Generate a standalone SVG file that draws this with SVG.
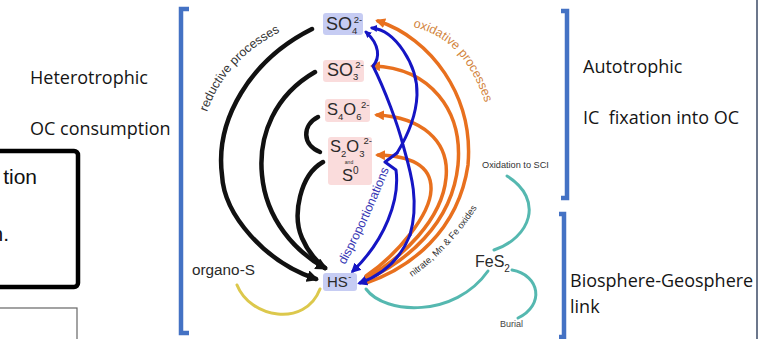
<svg xmlns="http://www.w3.org/2000/svg" width="760" height="339" viewBox="0 0 760 339">
<style>
.side{font-family:"Open Sans","Liberation Sans",sans-serif;font-size:18px;fill:#151515}
.chem{font-family:"Liberation Sans",Arial,sans-serif;fill:#2a2a2a}
.lab{font-family:"Liberation Sans",Arial,sans-serif}
.bracket{fill:none;stroke:#4472c4;stroke-width:4.5}
.k{fill:none;stroke:#111;stroke-width:4.5;stroke-linecap:round}
.o{fill:none;stroke:#e8701e;stroke-width:3.5;stroke-linecap:round}
.b{fill:none;stroke:#1515c4;stroke-width:3;stroke-linecap:round;stroke-linejoin:round}
.t{fill:none;stroke:#55b8b0;stroke-width:3;stroke-linecap:round}
.blue{fill:#c6ccf3}
.pink{fill:#fadcdc}
.s{font-size:9.5px}
</style>
<defs>
<marker id="ak" markerUnits="userSpaceOnUse" markerWidth="12" markerHeight="12" refX="9" refY="6" orient="auto"><path d="M0,0 L12,6 L0,12 z" fill="#111"/></marker>
<marker id="ao" markerUnits="userSpaceOnUse" markerWidth="10" markerHeight="10" refX="7" refY="5" orient="auto"><path d="M0,0 L10,5 L0,10 z" fill="#e8701e"/></marker>
<marker id="ab" markerUnits="userSpaceOnUse" markerWidth="10" markerHeight="10" refX="7" refY="5" orient="auto"><path d="M0,0 L10,5 L0,10 z" fill="#1515c4"/></marker>
<marker id="ab2" markerUnits="userSpaceOnUse" markerWidth="7" markerHeight="7" refX="5" refY="3.5" orient="auto"><path d="M0,0 L7,3.5 L0,7 z" fill="#1515c4"/></marker>
<path id="pRed" d="M 207,112 Q 226,58 284,30"/>
<path id="pOx" d="M 413,27 Q 465,38 486,106"/>
<path id="pDis" d="M 345,265 Q 374,212 400,140"/>
<path id="pNit" d="M 412,277 Q 450,250 478,206"/>
</defs>
<rect width="760" height="339" fill="#fff"/>

<!-- left panel -->
<g id="left-box">
<rect x="-10" y="151" width="88" height="136" rx="4" fill="none" stroke="#000" stroke-width="4.5"/>
<text class="lab" x="37" y="184" font-size="21" text-anchor="end" fill="#111">tion</text>
<text class="lab" x="9" y="241" font-size="21" text-anchor="end" fill="#111">n.</text>
</g>
<g id="left-box2">
<rect x="-10" y="308" width="87" height="50" fill="none" stroke="#666" stroke-width="1.2"/>
</g>
<g id="heterotrophic">
<text class="side" x="30" y="84">Heterotrophic</text>
<text class="side" x="30" y="135">OC consumption</text>
</g>
<g id="brackets">
<path class="bracket" d="M189,9 H181 V333 H189"/>
<path class="bracket" d="M561,11 H567 V198 H561"/>
<path class="bracket" d="M559,214 H564 V337 H559"/>
<line x1="757" y1="0" x2="757" y2="339" stroke="#3b4a66" stroke-width="1.5"/>
</g>
<g id="autotrophic">
<text class="side" x="583" y="73">Autotrophic</text>
<text class="side" x="583" y="124" xml:space="preserve" style="white-space:pre">IC  fixation into OC</text>
</g>
<g id="biosphere">
<text class="side" x="570" y="287">Biosphere-Geosphere</text>
<text class="side" x="570" y="313">link</text>
</g>

<!-- connectors -->
<g id="connectors">
<path class="k" d="M312,29 C250,60 215,120 222,175 C224,215 265,262 316,279" marker-end="url(#ak)"/>
<path class="k" d="M315,72 C275,95 258,135 262,175 C266,220 296,252 325,268" marker-end="url(#ak)"/>
<path class="k" d="M318,117 C302,125 302,145 320,152"/>
<path class="k" d="M323,162 C300,175 292,215 302,238 C308,252 316,261 325,268"/>

<path class="o" d="M366,283 C410,268 458,232 468,165 C474,95 430,38 378,21" marker-end="url(#ao)"/>
<path class="o" d="M366,280 C405,262 452,225 458,165 C463,110 430,68 373,66" marker-end="url(#ao)"/>
<path class="o" d="M366,278 C402,258 442,220 446,178 C450,140 420,117 377,115" marker-end="url(#ao)"/>
<path class="o" d="M366,276 C398,254 430,215 431,190 C432,165 410,156 378,155" marker-end="url(#ao)"/>

<path class="b" d="M410,235 C420,200 410,170 403,145 C398,125 385,90 373,66 C380,58 380,45 366,32" marker-end="url(#ab2)"/>
<path class="b" d="M410,235 C400,260 382,275 360,283" marker-end="url(#ab)"/>
<path class="b" d="M397,153 C405,140 416,120 417,95 C418,65 395,30 372,28" marker-end="url(#ab2)"/>
<path class="b" d="M397,153 L385,162 L396,170 C400,200 385,240 353,271" marker-end="url(#ab)"/>

<path fill="none" stroke="#dcc84c" stroke-width="3" stroke-linecap="round" d="M237,285 C250,318 305,328 320,289"/>
<path class="t" d="M366,289 C385,315 455,318 488,271"/>
<path class="t" d="M494,250 C530,238 545,200 507,176"/>
<path class="t" stroke-width="2" d="M512,270 C540,275 545,305 518,318"/>
</g>

<!-- labels on arcs -->
<g id="process-labels">
<text class="lab" font-size="12.5" fill="#333"><textPath href="#pRed">reductive processes</textPath></text>
<text class="lab" font-size="12.5" fill="#d2843c"><textPath href="#pOx">oxidative processes</textPath></text>
<text class="lab" font-size="12.5" fill="#3636b4"><textPath href="#pDis">disproportionations</textPath></text>
<text class="lab" font-size="9.3" fill="#333"><textPath href="#pNit">nitrate, Mn &amp; Fe oxides</textPath></text>
</g>

<!-- nodes -->
<g id="node-SO4">
<rect class="blue" x="323" y="13" width="40" height="22" rx="3"/>
<text class="chem" x="326" y="30" font-size="18">SO<tspan class="s" dy="4">4</tspan><tspan class="s" dx="-3.5" dy="-11">2-</tspan></text>
</g>
<g id="node-SO3">
<rect class="pink" x="323" y="60" width="41" height="22" rx="3"/>
<text class="chem" x="327" y="76" font-size="18">SO<tspan class="s" dy="4">3</tspan><tspan class="s" dx="-3" dy="-12">2-</tspan></text>
</g>
<g id="node-S4O6">
<rect class="pink" x="325" y="99" width="45" height="23" rx="3"/>
<text class="chem" x="327" y="115" font-size="16.5">S<tspan class="s" dy="4.5">4</tspan><tspan dy="-4.5">O</tspan><tspan class="s" dy="4.5">6</tspan><tspan class="s" dx="-0.5" dy="-11.5">2-</tspan></text>
</g>
<g id="node-S2O3-S0">
<rect class="pink" x="328" y="137" width="44" height="48" rx="3"/>
<text class="chem" x="330" y="152" font-size="16.5">S<tspan class="s" dy="5">2</tspan><tspan dy="-5">O</tspan><tspan class="s" dy="5">3</tspan><tspan class="s" dx="-1" dy="-13">2-</tspan></text>
<text class="chem" x="349" y="164" font-size="5" text-anchor="middle">and</text>
<text class="chem" x="342" y="181" font-size="16.5">S<tspan font-size="10" dy="-7">0</tspan></text>
</g>
<g id="node-HS">
<rect class="blue" x="323" y="273" width="34" height="18" rx="3"/>
<text class="chem" x="327" y="287" font-size="15">HS<tspan font-size="9" dx="0.5" dy="-7">-</tspan></text>
</g>
<g id="node-organoS">
<text class="chem" x="192" y="275" font-size="15.3" fill="#444">organo-S</text>
</g>
<g id="node-FeS2">
<text class="chem" x="475" y="267" font-size="16">FeS<tspan font-size="10" dy="5">2</tspan></text>
</g>
<g id="node-oxSCI">
<text class="lab" x="482" y="168" font-size="9.2" fill="#333">Oxidation to SCI</text>
</g>
<g id="node-burial">
<text class="lab" x="500" y="327" font-size="9" fill="#444">Burial</text>
</g>
</svg>
